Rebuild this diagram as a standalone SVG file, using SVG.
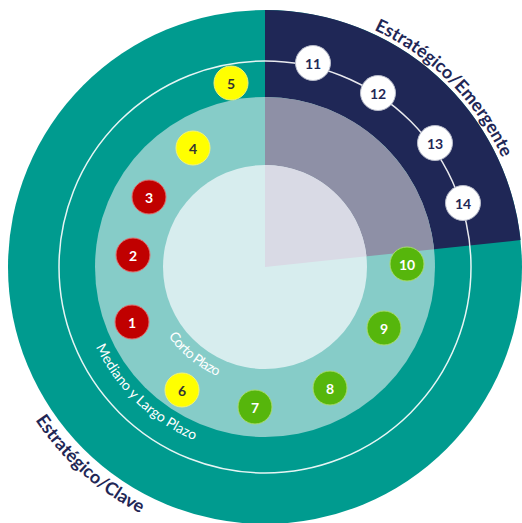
<svg xmlns="http://www.w3.org/2000/svg" width="522" height="523" viewBox="0 0 522 523">
<style>
.lbl{font-family:Lato,"Open Sans","Liberation Sans",sans-serif;font-weight:bold;font-size:14px;text-anchor:middle;dominant-baseline:central}
.arcB{font-family:Lato,"Open Sans","Liberation Sans",sans-serif;font-weight:bold;font-size:18px;fill:#1F2756;text-anchor:middle}
.arcS{font-family:Lato,"Open Sans","Liberation Sans",sans-serif;font-size:14px;fill:#ffffff;text-anchor:middle}
.red{fill:#C00000;stroke:#E07070;stroke-width:1}
.yel{fill:#FFFF00;stroke:#F2F27A;stroke-width:1}
.grn{fill:#56B60C;stroke:#A9DC6E;stroke-width:1}
.wht{fill:#ffffff;stroke:#B8BCCB;stroke-width:1}
</style>
<defs>
<path id="pEm" d="M332.55,14.89 A261,261 0 0 1 517.11,199.45"/>
<path id="pCl" d="M5.64,361.40 A276,276 0 0 0 201.96,535.71"/>
<path id="pCo" d="M153.9,309.65 A119,119 0 0 0 246.39,384.54"/>
<path id="pMe" d="M85.7,320.11 A187,187 0 0 0 221.35,448.84"/>
</defs>
<rect width="522" height="523" fill="#ffffff"/>
<g id="rings">
<circle cx="265" cy="267" r="257" fill="#009B8F"/>
<path d="M265,267 L265,10 A257,257 0 0 1 520.6,240.1 Z" fill="#1F2756"/>
<circle cx="265" cy="267" r="170" fill="#86CCC8"/>
<path d="M265,267 L265,97 A170,170 0 0 1 434.07,249.23 Z" fill="#8E90A6"/>
<circle cx="265" cy="267" r="102" fill="#D7EDEE"/>
<path d="M265,267 L265,165 A102,102 0 0 1 366.44,256.34 Z" fill="#D9DAE5"/>
<circle cx="265" cy="267" r="206" fill="none" stroke="#ffffff" stroke-width="1.5" opacity="0.9"/>
</g>
<g id="labels">
<text class="arcB"><textPath href="#pEm" startOffset="50%">Estratégico/Emergente</textPath></text>
<text class="arcB"><textPath href="#pCl" startOffset="50%">Estratégico/Clave</textPath></text>
<text class="arcS" textLength="64"><textPath href="#pCo" startOffset="50%">Corto Plazo</textPath></text>
<text class="arcS" font-size="13" fill="#E6F6F4"><textPath href="#pMe" startOffset="50%">Mediano y Largo Plazo</textPath></text>
</g>
<g id="connectors"></g>
<g id="n1"><circle class="red" cx="132" cy="322" r="17"/><text class="lbl" x="132" y="322" fill="#fff">1</text></g>
<g id="n2"><circle class="red" cx="133" cy="255" r="17"/><text class="lbl" x="133" y="255" fill="#fff">2</text></g>
<g id="n3"><circle class="red" cx="149" cy="197" r="17"/><text class="lbl" x="149" y="197" fill="#fff">3</text></g>
<g id="n4"><circle class="yel" cx="193" cy="148" r="17"/><text class="lbl" x="193" y="148" fill="#333">4</text></g>
<g id="n5"><circle class="yel" cx="231" cy="83" r="17"/><text class="lbl" x="231" y="83" fill="#333">5</text></g>
<g id="n6"><circle class="yel" cx="182" cy="390" r="17"/><text class="lbl" x="182" y="390" fill="#333">6</text></g>
<g id="n7"><circle class="grn" cx="255" cy="407" r="17"/><text class="lbl" x="255" y="407" fill="#fff">7</text></g>
<g id="n8"><circle class="grn" cx="330" cy="388" r="17"/><text class="lbl" x="330" y="388" fill="#fff">8</text></g>
<g id="n9"><circle class="grn" cx="384" cy="328" r="17"/><text class="lbl" x="384" y="328" fill="#fff">9</text></g>
<g id="n10"><circle class="grn" cx="407" cy="264" r="17"/><text class="lbl" x="407" y="264" fill="#fff">10</text></g>
<g id="n11"><circle class="wht" cx="313" cy="63" r="17.5"/><text class="lbl" x="313" y="63" fill="#1F2756">11</text></g>
<g id="n12"><circle class="wht" cx="378" cy="93" r="17.5"/><text class="lbl" x="378" y="93" fill="#1F2756">12</text></g>
<g id="n13"><circle class="wht" cx="435" cy="143" r="17.5"/><text class="lbl" x="435" y="143" fill="#1F2756">13</text></g>
<g id="n14"><circle class="wht" cx="463" cy="203" r="17.5"/><text class="lbl" x="463" y="203" fill="#1F2756">14</text></g>
</svg>
